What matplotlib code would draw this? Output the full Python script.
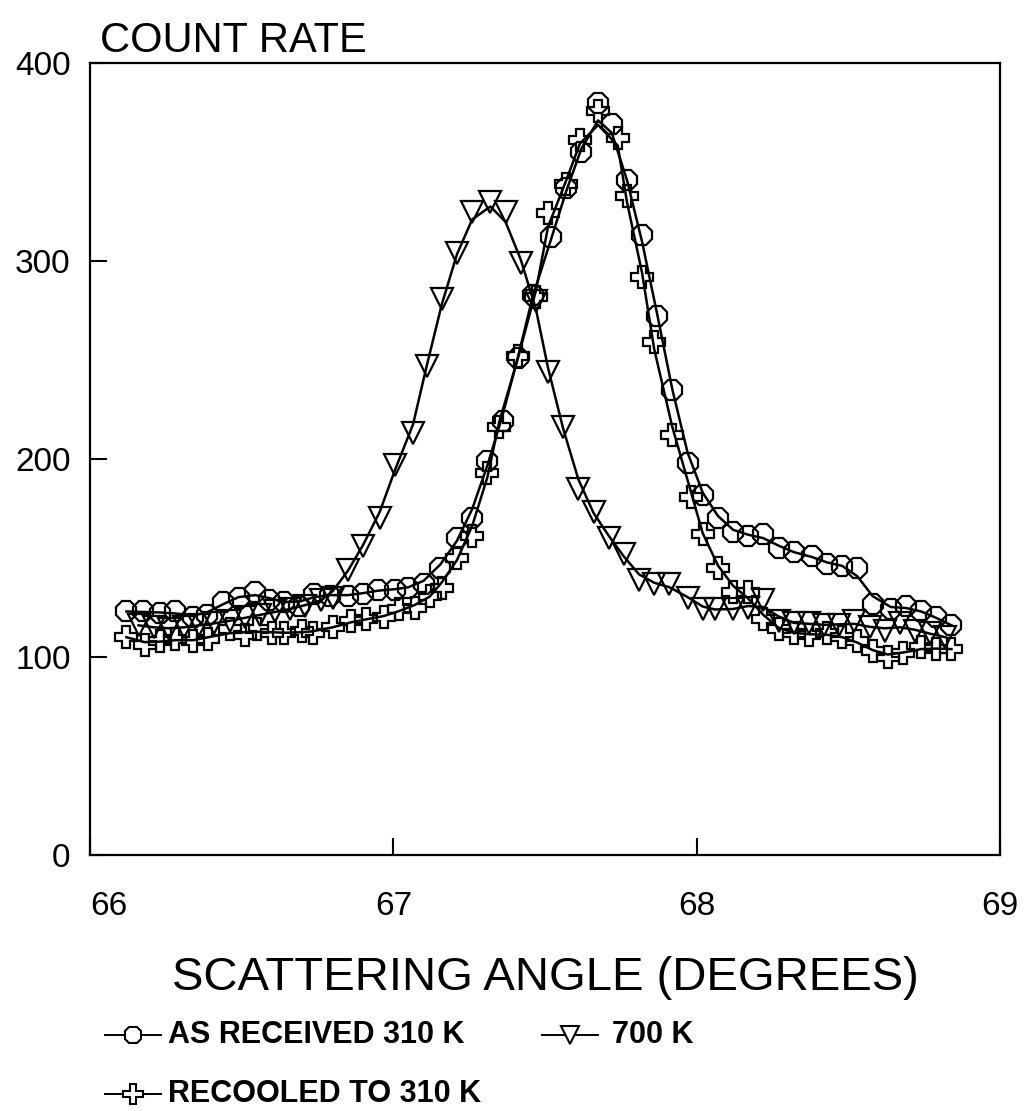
import numpy as np
import matplotlib
matplotlib.use("Agg")
import matplotlib.pyplot as plt

plt.rcParams['font.family'] = ['Liberation Sans', 'DejaVu Sans']

# ---------------- data ----------------
x_received = [66.12, 66.175, 66.23, 66.28, 66.34, 66.385, 66.44, 66.49, 66.545, 66.59,
              66.64, 66.69, 66.74, 66.79, 66.85, 66.90, 66.95, 67.005, 67.05, 67.10,
              67.155, 67.21, 67.26, 67.31, 67.36, 67.41, 67.46, 67.52, 67.57, 67.62,
              67.675, 67.72, 67.77, 67.82, 67.87, 67.92, 67.97, 68.02, 68.07, 68.12,
              68.17, 68.22, 68.27, 68.32, 68.38, 68.43, 68.48, 68.53, 68.58, 68.64,
              68.69, 68.74, 68.79, 68.84]
y_received = [123, 123, 122, 123, 120, 121, 128, 130, 133, 129,
              128, 126, 132, 131, 131, 132, 134, 134, 135, 137,
              145, 160, 170, 199, 219, 251, 283, 312, 337, 355,
              380, 369, 341, 313, 272, 235, 198, 182, 170, 163,
              161, 162, 155, 153, 151, 147, 146, 145, 127, 124,
              126, 123, 120, 116]

x_700k = [66.16, 66.21, 66.26, 66.31, 66.36, 66.41, 66.46, 66.51, 66.56, 66.61,
          66.66, 66.71, 66.76, 66.80, 66.85, 66.90, 66.955, 67.005, 67.065, 67.11,
          67.16, 67.21, 67.26, 67.32, 67.37, 67.42, 67.47, 67.51, 67.56, 67.61,
          67.66, 67.71, 67.76, 67.81, 67.86, 67.91, 67.97, 68.02, 68.06, 68.12,
          68.17, 68.22, 68.27, 68.32, 68.37, 68.42, 68.47, 68.52, 68.57, 68.62,
          68.67, 68.72, 68.77, 68.82]
y_700k = [116, 115, 114, 115, 116, 117, 118, 120, 121, 123,
          124, 126, 129, 130, 144, 156, 170, 197, 213, 247,
          281, 304, 325, 330, 325, 299, 280, 244, 216, 185,
          173, 160, 152, 139, 137, 137, 130, 124, 124, 124,
          125, 129, 118, 117, 117, 116, 116, 118, 115, 113,
          117, 113, 112, 110]

x_recooled = [66.12, 66.18, 66.23, 66.28, 66.34, 66.39, 66.46, 66.51, 66.55, 66.60,
              66.64, 66.70, 66.735, 66.80, 66.86, 66.91, 66.97, 67.02, 67.07, 67.12,
              67.16, 67.21, 67.26, 67.31, 67.35, 67.41, 67.47, 67.51, 67.57, 67.615,
              67.675, 67.74, 67.77, 67.82, 67.86, 67.92, 67.98, 68.02, 68.07, 68.12,
              68.17, 68.22, 68.27, 68.32, 68.37, 68.43, 68.48, 68.53, 68.58, 68.63,
              68.68, 68.74, 68.79, 68.84]
y_recooled = [110, 106, 108, 109, 108, 109, 114, 111, 114, 112,
              112, 113, 112, 115, 118, 119, 120, 124, 125, 131,
              135, 150, 161, 193, 216, 252, 282, 324, 339, 361,
              376, 362, 333, 292, 259, 212, 181, 162, 145, 133,
              133, 119, 114, 112, 111, 112, 110, 108, 103, 100,
              102, 105, 104, 104]

x_ticks = [66, 67, 68, 69]
y_ticks = [0, 100, 200, 300, 400]

labels = ["AS RECEIVED 310 K", "700 K", "RECOOLED TO 310 K"]


def smooth(v):
    v = np.asarray(v, dtype=float)
    out = v.copy()
    out[1:-1] = 0.25 * v[:-2] + 0.5 * v[1:-1] + 0.25 * v[2:]
    return out


# ---------------- figure ----------------
W, H = 1028, 1111
fig = plt.figure(figsize=(W / 100, H / 100), dpi=100)
ax = fig.add_axes([90 / W, 1 - 855 / H, 910 / W, 792 / H])

styles = [
    dict(marker='8', ms=15.5),
    dict(marker='v', ms=15.5),
    dict(marker='P', ms=16.5),
]
series = [(x_received, y_received), (x_700k, y_700k), (x_recooled, y_recooled)]

for (xs, ys), st in zip(series, styles):
    ax.plot(xs, smooth(ys), color='black', lw=1.8, zorder=2)
    ax.plot(xs, ys, linestyle='none', marker=st['marker'], ms=st['ms'],
            mfc='none', mec='black', mew=1.6, zorder=3)

ax.set_xlim(66, 69)
ax.set_ylim(0, 400)
ax.set_xticks(x_ticks)
ax.set_yticks(y_ticks)
ax.set_xticklabels([str(t) for t in x_ticks])
ax.set_yticklabels([str(t) for t in y_ticks])
ax.tick_params(direction='in', length=12, width=1.5, labelsize=24)
ax.tick_params(axis='y', pad=14)
ax.tick_params(axis='x', pad=26)
ax.get_xticklabels()[0].set_horizontalalignment('left')
for s in ax.spines.values():
    s.set_linewidth(1.6)

fig.text(100 / W, 1 - 52 / H, "COUNT RATE", fontsize=30, ha='left', va='baseline')
fig.text(545 / W, 1 - 990 / H, "SCATTERING ANGLE (DEGREES)", fontsize=34,
         ha='center', va='baseline')

# ---------------- legend (drawn in pixel space) ----------------
lax = fig.add_axes([0, 0, 1, 1], facecolor='none')
lax.set_xlim(0, W)
lax.set_ylim(H, 0)
lax.axis('off')

entries = [
    (105, 1035, 168, labels[0], styles[0]),
    (542, 1035, 612, labels[1], styles[1]),
    (105, 1094, 168, labels[2], styles[2]),
]
for x0, y0, tx, lab, st in entries:
    lax.plot([x0, x0 + 56], [y0, y0], color='black', lw=1.4)
    lax.plot([x0 + 28], [y0], marker=st['marker'], ms=st['ms'] * 0.85,
             mfc='white', mec='black', mew=1.5, linestyle='none')
    lax.text(tx, y0, lab, fontsize=22, fontweight='bold', ha='left', va='center')

fig.savefig("out.png", dpi=100, facecolor='white')
